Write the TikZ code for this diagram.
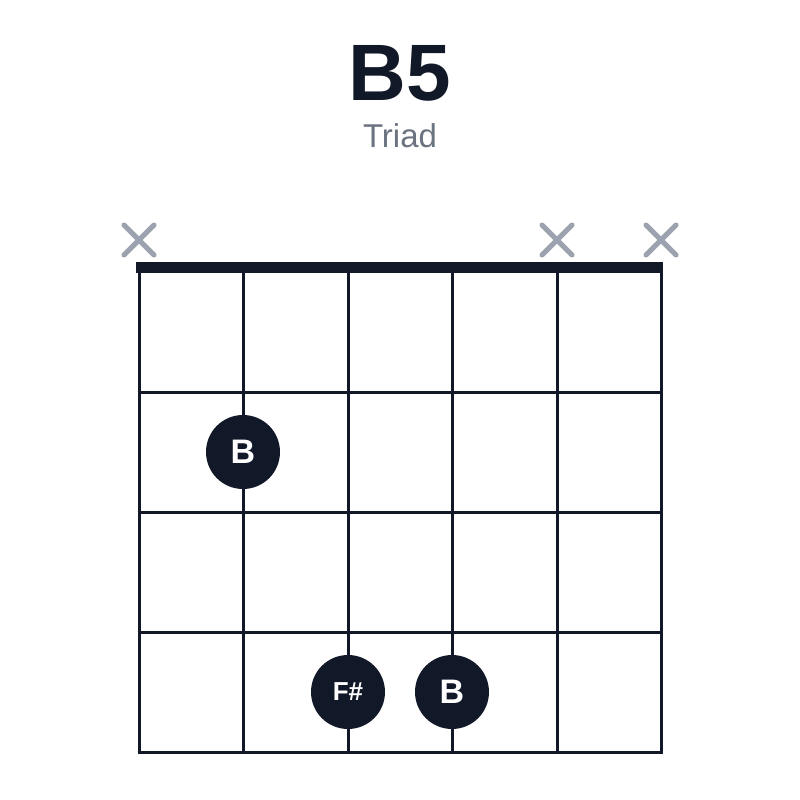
\documentclass[tikz,border=0pt]{standalone}
\usepackage{fontspec}
\setmainfont{Liberation Sans}
\definecolor{ink}{HTML}{111827}
\definecolor{mute}{HTML}{9CA3AF}
\definecolor{sub}{HTML}{6B7280}
\begin{document}
\begin{tikzpicture}[x=1pt,y=-1pt,
  gridline/.style={draw=ink,line width=3pt},
  nutbar/.style={draw=ink,line width=11pt},
  mutex/.style={draw=mute,line width=5pt,line cap=round},
  dot/.style={circle,fill=ink,minimum size=74pt,inner sep=0pt,text=white},
  title/.style={font=\fontsize{80}{80}\selectfont\bfseries,text=ink},
  subtitle/.style={font=\fontsize{33}{33}\selectfont,text=sub}]
\useasboundingbox (0,0) rectangle (800,800);
\fill[white] (0,0) rectangle (800,800);
\node[title,anchor=base] (t) at (400,100) {B5};
\node[subtitle,anchor=base] (s) at (400,147) {Triad};
% strings
\foreach \i/\x in {1/139,2/243,3/348,4/452,5/557,6/661}{
  \draw[gridline] (\x,267) -- (\x,752);
}
% frets
\foreach \y in {392,512,632,752}{
  \draw[gridline] (137.5,\y) -- (662.5,\y);
}
% nut
\draw[nutbar] (136,267.5) -- (663,267.5);
% mutes
\foreach \x in {139,557,661}{
  \draw[mutex] (\x-15,225) -- (\x+15,255);
  \draw[mutex] (\x-15,255) -- (\x+15,225);
}
\node[dot,font=\fontsize{34}{34}\selectfont\bfseries] (b1) at (243,452) {B};
\node[dot,font=\fontsize{26}{26}\selectfont\bfseries] (f1) at (348,692) {F\#};
\node[dot,font=\fontsize{34}{34}\selectfont\bfseries] (b2) at (452,692) {B};
\end{tikzpicture}
\end{document}
